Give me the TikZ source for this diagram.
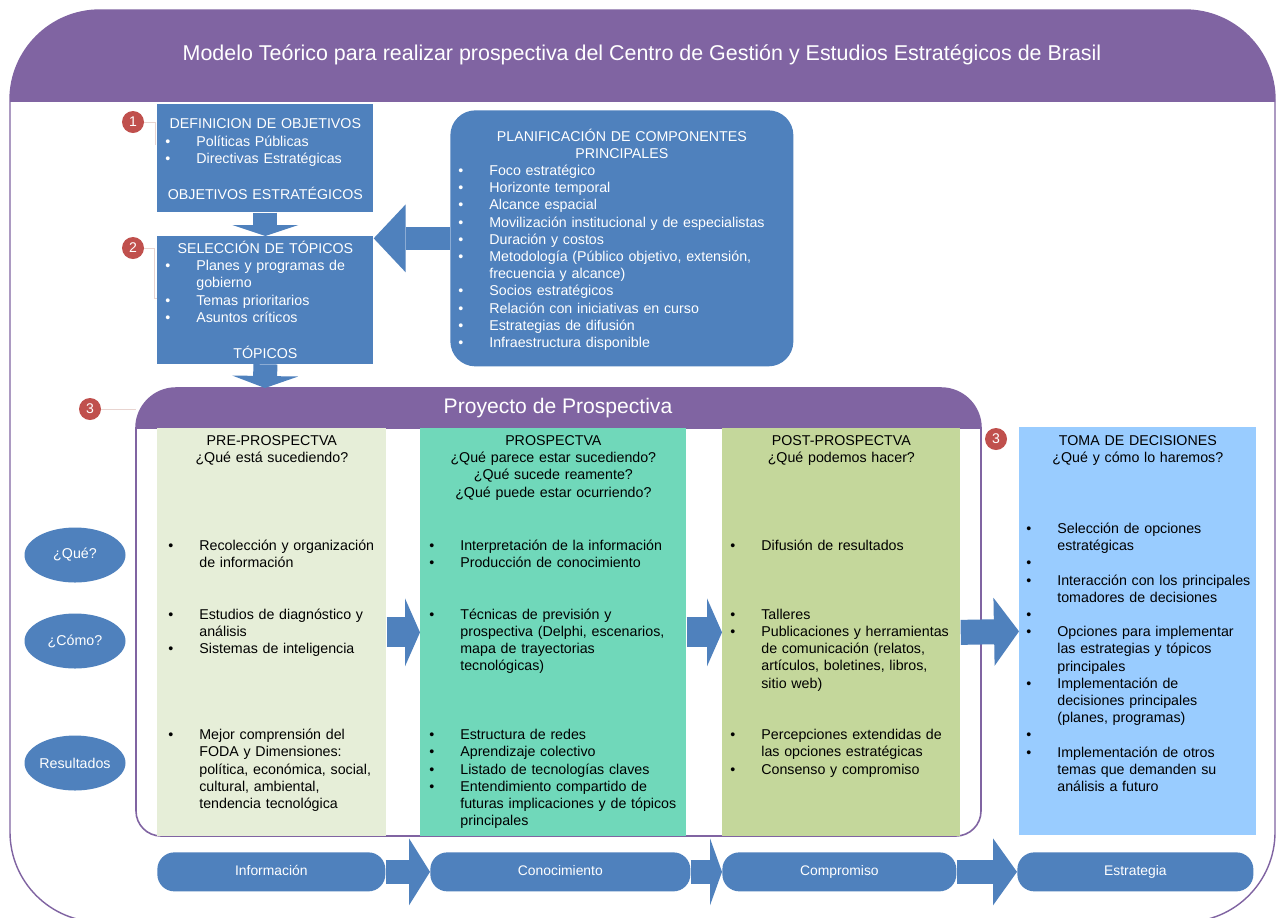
\documentclass[tikz,border=0pt]{standalone}
\usepackage{fontspec}
\setmainfont{Liberation Sans}
\usetikzlibrary{positioning,shapes.geometric,arrows.meta}

\definecolor{frameviolet}{RGB}{128,100,162}
\definecolor{boxblue}{RGB}{79,129,189}
\definecolor{numred}{RGB}{192,80,77}
\definecolor{prefill}{RGB}{230,238,216}
\definecolor{prosfill}{RGB}{112,216,186}
\definecolor{postfill}{RGB}{196,215,155}
\definecolor{tomafill}{RGB}{153,204,255}
\definecolor{tickline}{RGB}{232,212,208}

\newlength{\pxu}
\setlength{\pxu}{0.02cm}
\newcommand{\txt}{\fontsize{8.1}{9.79}\selectfont}
\newcommand{\bitem}[1]{\par\noindent\hangindent=31\pxu\hangafter=1%
  \hbox to 31\pxu{\textbullet\hss}\strut#1}
\newcommand{\ctr}[1]{\par\noindent\hbox to\hsize{\hss\strut#1\hss}}
\newcommand{\gap}[1]{\par\vskip#1\baselineskip}

\begin{document}
\begin{tikzpicture}[
  x=0.02cm, y=-0.02cm,
  bluebox/.style={fill=boxblue, text=white, inner xsep=8\pxu, inner ysep=0pt,
    align=left, font=\txt, anchor=north west},
  column/.style={inner sep=0pt, anchor=north west, minimum height=408\pxu},
  colhead/.style={inner sep=0pt, anchor=north, align=center, font=\txt},
  colbody/.style={inner sep=0pt, anchor=north west, align=left,
    text width=280\pxu, font=\txt},
  askoval/.style={ellipse, fill=boxblue, text=white, minimum width=101\pxu,
    minimum height=55\pxu, inner sep=0pt, font=\txt},
  pill/.style={fill=boxblue, text=white, rounded corners=0.34cm,
    minimum height=39\pxu, anchor=north west, inner sep=0pt,
    font=\fontsize{7.9}{9}\selectfont, execute at begin node=\strut},
  numdot/.style={circle, fill=numred, text=white, minimum size=22\pxu,
    inner sep=0pt, font=\fontsize{8}{9}\selectfont},
  tick/.style={draw=tickline, line width=0.5pt},
  blockarrow/.style n args={3}{draw=boxblue, line width=#1,
    -{Triangle[width=#2, length=#3, line width=0pt 0 0]}},
]
\useasboundingbox (0,0) rectangle (1280,917);
\fill[white] (0,0) rectangle (1280,917);

% outer frame and title
\begin{scope}
  \clip (0,0) rectangle (1280,101);
  \fill[frameviolet, rounded corners=1.8cm] (10,10) rectangle (1275,400);
\end{scope}
\draw[frameviolet, line width=0.8pt, rounded corners=1.8cm] (10,10) rectangle (1275,922);
\node[text=white, font=\fontsize{12.2}{14}\selectfont] (title) at (642,55)
  {Modelo Teórico para realizar prospectiva del Centro de Gestión y Estudios Estratégicos de Brasil};

% upper boxes
\node[bluebox, text width=200\pxu, minimum height=108\pxu] (def) at (157,104)
  {\ctr{DEFINICION DE OBJETIVOS}\bitem{Políticas Públicas}\bitem{Directivas Estratégicas}%
   \gap{1}\ctr{OBJETIVOS ESTRATÉGICOS}\par};
\node[bluebox, text width=200\pxu, minimum height=125\pxu] (sel) at (157,236)
  {\ctr{SELECCIÓN DE TÓPICOS}\bitem{Planes y programas de\newline gobierno}%
   \bitem{Temas prioritarios}\bitem{Asuntos críticos}\gap{1}\ctr{TÓPICOS}\par};
\node[bluebox, rounded corners=0.5cm, text width=327\pxu, minimum height=256\pxu] (plan) at (450,110)
  {\ctr{PLANIFICACIÓN DE COMPONENTES}\ctr{PRINCIPALES}%
   \bitem{Foco estratégico}\bitem{Horizonte temporal}\bitem{Alcance espacial}%
   \bitem{Movilización institucional y de especialistas}\bitem{Duración y costos}%
   \bitem{Metodología (Público objetivo, extensión,\newline frecuencia y alcance)}%
   \bitem{Socios estratégicos}\bitem{Relación con iniciativas en curso}%
   \bitem{Estrategias de difusión}\bitem{Infraestructura disponible}\par};

\node[numdot] (num1) at (133,122) {1};
\node[numdot] (num2) at (133,248) {2};
\node[numdot] (num3a) at (90,409) {3};
\node[numdot] (num3b) at (996,439) {3};
\draw[tick] (num1.east) -- (155,122) -- (155,145);
\draw[tick] (num2.east) -- (154,248) -- (154,298) -- (157,298);
\draw[tick] (num3a.east) -- (136,409);

% project frame
\coordinate (proytop) at (265,388);
\begin{scope}
  \clip (0,0) rectangle (1280,428);
  \fill[frameviolet, rounded corners=0.8cm] (136,388) rectangle (981,600);
\end{scope}
\draw[frameviolet, line width=0.9pt, rounded corners=0.8cm] (136,600) -- (136,388) -- (981,388) -- (981,600);
\draw[frameviolet, line width=0.9pt, rounded corners=0.5cm] (136,600) -- (136,836) -- (981,836) -- (981,600);
\node[text=white, font=\fontsize{12}{14}\selectfont] (proyhead) at (558,408) {Proyecto de Prospectiva};

% columns
\node[column, fill=prefill, minimum width=229\pxu] (pre) at (157,428) {};
\node[column, fill=prosfill, minimum width=266\pxu] (pros) at (420,428) {};
\node[column, fill=postfill, minimum width=238\pxu] (post) at (722,428) {};
\node[column, fill=tomafill, minimum width=237\pxu] (toma) at (1019,427) {};

\node[colhead, text width=229\pxu] (prehead) at ([yshift=-5\pxu]pre.north)
  {\strut PRE-PROSPECTVA\\\strut ¿Qué está sucediendo?};
\node[colhead, text width=266\pxu] (proshead) at ([yshift=-5\pxu]pros.north)
  {\strut PROSPECTVA\\\strut ¿Qué parece estar sucediendo?\\\strut ¿Qué sucede reamente?\\\strut ¿Qué puede estar ocurriendo?};
\node[colhead, text width=238\pxu] (posthead) at ([yshift=-5\pxu]post.north)
  {\strut POST-PROSPECTVA\\\strut ¿Qué podemos hacer?};
\node[colhead, text width=237\pxu] (tomahead) at ([yshift=-6\pxu]toma.north)
  {\strut TOMA DE DECISIONES\\\strut ¿Qué y cómo lo haremos?};

\node[colbody] (prebody) at (168,533)
  {\bitem{Recolección y organización\newline de información}\gap{2}%
   \bitem{Estudios de diagnóstico y\newline análisis}\bitem{Sistemas de inteligencia}\gap{4}%
   \bitem{Mejor comprensión del\newline FODA y Dimensiones:\newline política, económica, social,\newline cultural, ambiental,\newline tendencia tecnológica}\par};
\node[colbody] (prosbody) at (429,533)
  {\bitem{Interpretación de la información}\bitem{Producción de conocimiento}\gap{2}%
   \bitem{Técnicas de previsión y\newline prospectiva (Delphi, escenarios,\newline mapa de trayectorias\newline tecnológicas)}\gap{3}%
   \bitem{Estructura de redes}\bitem{Aprendizaje colectivo}\bitem{Listado de tecnologías claves}%
   \bitem{Entendimiento compartido de\newline futuras implicaciones y de tópicos\newline principales}\par};
\node[colbody] (postbody) at (730,533)
  {\bitem{Difusión de resultados}\gap{3}%
   \bitem{Talleres}\bitem{Publicaciones y herramientas\newline de comunicación (relatos,\newline artículos, boletines, libros,\newline sitio web)}\gap{2}%
   \bitem{Percepciones extendidas de\newline las opciones estratégicas}\bitem{Consenso y compromiso}\par};
\node[colbody] (tomabody) at (1026,516)
  {\bitem{Selección de opciones\newline estratégicas}\bitem{}%
   \bitem{Interacción con los principales\newline tomadores de decisiones}\bitem{}%
   \bitem{Opciones para implementar\newline las estrategias y tópicos\newline principales}%
   \bitem{Implementación de\newline decisiones principales\newline (planes, programas)}\bitem{}%
   \bitem{Implementación de otros\newline temas que demanden su\newline análisis a futuro}\par};

% row labels
\node[askoval] (que) at (75,555) {¿Qué?};
\node[askoval] (como) at (75,641) {¿Cómo?};
\node[askoval] (res) at (75,763) {Resultados};

% bottom chain
\node[pill, minimum width=228\pxu] (info) at (157,852) {Información};
\node[pill, minimum width=260\pxu] (cono) at (430,852) {Conocimiento};
\node[pill, minimum width=234\pxu] (comp) at (722,852) {Compromiso};
\node[pill, minimum width=236\pxu] (estr) at (1017,852) {Estrategia};

% block arrows
\draw[blockarrow={0.48cm}{1.32cm}{0.22cm}] (def.south) -- (sel.north);
\draw[blockarrow={0.48cm}{1.32cm}{0.24cm}] (sel.south) -- (proytop);
\draw[blockarrow={0.46cm}{1.36cm}{0.64cm}] (plan.west) -- (plan.west -| sel.east);
\draw[blockarrow={0.6cm}{1.36cm}{0.3cm}] (pre.east) -- (pros.west);
\draw[blockarrow={0.6cm}{1.36cm}{0.3cm}] (pros.east) -- (post.west);
\draw[blockarrow={0.5cm}{1.36cm}{0.5cm}] (post.east) -- (toma.west);
\draw[blockarrow={0.48cm}{1.34cm}{0.42cm}] (info.east) -- (cono.west);
\draw[blockarrow={0.48cm}{1.34cm}{0.24cm}] (cono.east) -- (comp.west);
\draw[blockarrow={0.48cm}{1.34cm}{0.48cm}] (comp.east) -- (estr.west);
\end{tikzpicture}
\end{document}
